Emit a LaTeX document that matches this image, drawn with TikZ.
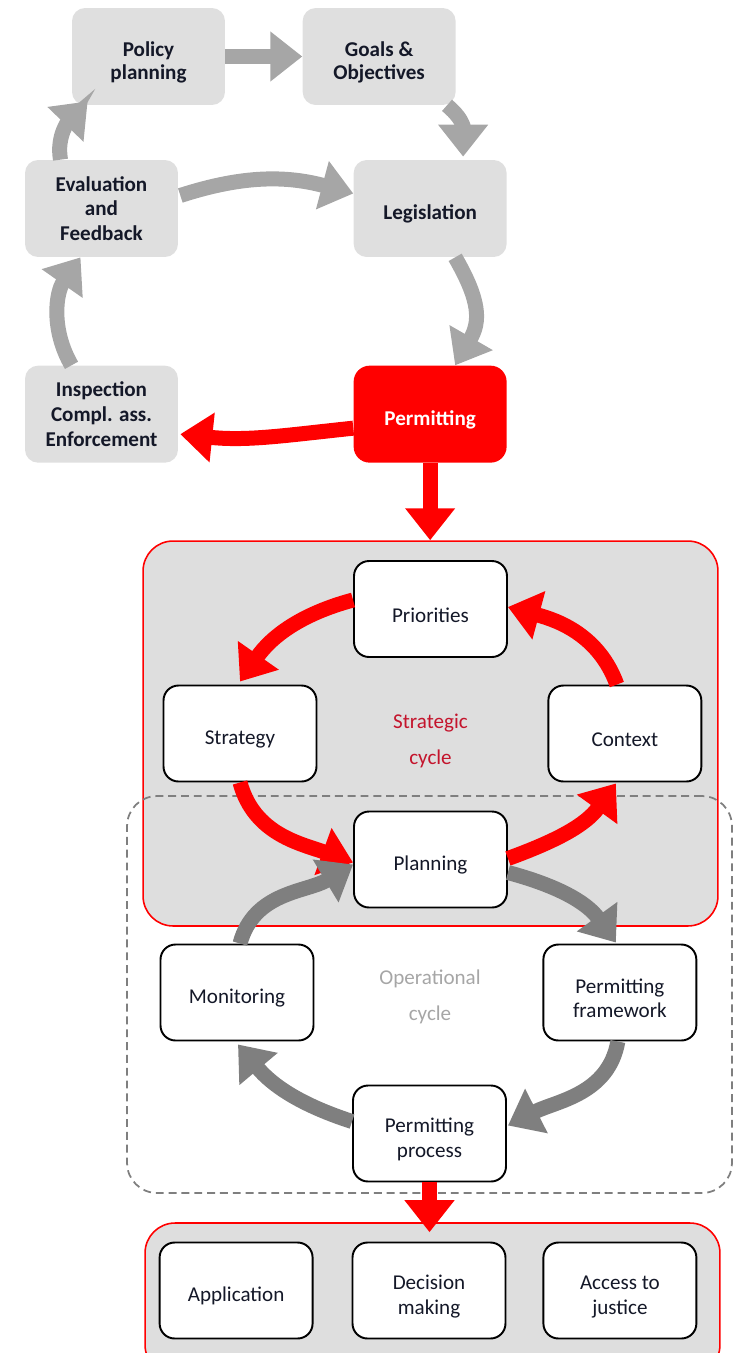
\documentclass[tikz,border=0pt]{standalone}
\usepackage{fontspec}
\setmainfont{Carlito}
\usepackage{xcolor}
\usepackage{tikz}
\usetikzlibrary{positioning, calc, arrows.meta}
\definecolor{boxgrey}{RGB}{223,223,223}
\definecolor{framegrey}{RGB}{222,222,222}
\definecolor{lightarrow}{RGB}{166,166,166}
\definecolor{darkarrow}{RGB}{127,127,127}
\definecolor{permitred}{RGB}{255,0,0}
\definecolor{cyclered}{RGB}{196,20,44}
\definecolor{textdark}{RGB}{20,24,40}

\begin{document}
\begin{tikzpicture}[
        x=0.02cm, y=0.02cm,
        lowered/.style={execute at begin node={\rule{0pt}{#1}}},
        phase/.style={rectangle, rounded corners=0.26cm, fill=#1, text=textdark, align=center, minimum width=3.06cm, minimum height=1.94cm, font=\fontsize{12}{13.5}\selectfont\bfseries, lowered=15pt},
        stage/.style={rectangle, rounded corners=0.3cm, draw=black, line width=1.1pt, fill=white, text=textdark, align=center, minimum width=3.06cm, minimum height=1.92cm, font=\fontsize{12}{14}\selectfont, lowered=15pt},
        frame/.style={rectangle, rounded corners=0.6cm, fill=framegrey, draw=permitred, line width=0.9pt},
        title/.style={text=#1, align=center, font=\fontsize{12}{20.5}\selectfont},
        arrow/.style={->, >={Triangle[length=0.64cm, width=0.96cm]}, line width=0.3cm, draw=#1}
    ]

        \useasboundingbox (0,0) rectangle (736,-1353);
        \clip (0,0) rectangle (736,-1353);

        % policy cycle
        \node (policy) [phase=boxgrey, lowered=28.5pt] at (148.5,-56.5) {Policy\\planning};
        \node (goals) [phase=boxgrey, lowered=28.5pt, right=1.54cm of policy] {Goals \&\\Objectives};
        \node (evaluation) [phase=boxgrey, lowered=0pt, font=\fontsize{12}{14}\selectfont\bfseries] at (101.5,-208.5) {Evaluation\\and\\Feedback};
        \node (legislation) [phase=boxgrey, right=3.5cm of evaluation] {Legislation};
        \node (inspection) [phase=boxgrey, lowered=0pt, font=\fontsize{12}{14}\selectfont\bfseries, below=2.16cm of evaluation] {Inspection\\Compl. ass.\\Enforcement};
        \node (permitting) [phase=permitred, text=white, rounded corners=0.32cm, right=3.5cm of inspection] {Permitting};

        \draw[arrow=lightarrow] (policy.east) -- (goals.west);
        \draw[arrow=lightarrow] ($(goals.south east)+(-9,0)$) to[out=-40, in=90, looseness=1.2] ($(legislation.north)+(33,3)$);
        \draw[arrow=lightarrow] ($(evaluation.east)+(2,13)$) to[out=18, in=165] ($(legislation.west)+(0,15)$);
        \draw[arrow=lightarrow] ($(legislation.south)+(25,0)$) to[out=-60, in=60, looseness=1.2] ($(permitting.north)+(25,0)$);
        \draw[arrow=permitred] ($(permitting.west)+(0,-14)$) to[out=186, in=-6] ($(inspection.east)+(2,-20)$);
        \draw[arrow=lightarrow] ($(inspection.north)+(-30,0)$) to[out=120, in=-125] ($(evaluation.south)+(-21,0)$);
        \draw[arrow=lightarrow] ($(evaluation.north)+(-41,0)$) to[out=100, in=-134] ($(policy.south west)+(16,4)$);

        % frames
        \node (strategic) [frame, minimum width=11.5cm, minimum height=7.7cm] at (430.5,-733.5) {};
        \node (operational) [rectangle, rounded corners=0.6cm, draw=darkarrow, line width=1pt, dash pattern=on 4.5pt off 2.8pt, minimum width=12.1cm, minimum height=7.94cm] at (429.5,-994.5) {};
        \node (bottomframe) [frame, minimum width=11.5cm, minimum height=3.04cm] at (432.5,-1299) {};

        \draw[arrow=permitred] (permitting.south) -- (permitting.south |- strategic.north);

        % strategic cycle
        \node (prio) [stage] at (430.5,-609) {Priorities};
        \node (strategy) [stage] at (240,-733.5) {Strategy};
        \node (context) [stage, right=4.6cm of strategy] {Context};
        \node (planning) [stage] at (430.5,-859.5) {Planning};
        \node (stratlabel) [title=cyclered] at (430.5,-741) {Strategic\\cycle};

        \draw[arrow=permitred] ($(prio.west)+(0,9)$) to[out=195, in=55] ($(strategy.north)+(0,3)$);
        \draw[arrow=permitred] ($(context.north)+(-8,0)$) to[out=110, in=-15] ($(prio.east)+(0,2)$);
        \draw[arrow=permitred] (strategy.south) to[out=-75, in=160] ($(planning.west)+(0,-3)$);
        \draw[arrow=permitred] ($(planning.east)+(0,1)$) to[out=20, in=-126] ($(context.south)+(-9,-1)$);

        % operational cycle
        \node (monitoring) [stage] at (237,-992.5) {Monitoring};
        \node (framework) [stage, lowered=29pt, right=4.56cm of monitoring] {Permitting\\framework};
        \node (process) [stage, lowered=29pt] at (429.5,-1133.5) {Permitting\\process};
        \node (oplabel) [title=lightarrow] at (430,-997) {Operational\\cycle};

        \draw[arrow=darkarrow] ($(planning.east)+(0,-13)$) to[out=-15, in=126] ($(framework.north)+(-4,1)$);
        \draw[arrow=darkarrow] ($(framework.south)+(-2,0)$) to[out=-100, in=27] ($(process.east)+(1,8)$);
        \draw[arrow=darkarrow] ($(process.west)+(0,12)$) to[out=162, in=-50] ($(monitoring.south)+(1,-3)$);
        \draw[arrow=darkarrow] ($(monitoring.north)+(3,0)$) to[out=75, in=-149] ($(planning.west)+(0,-5)$);

        % permitting process steps
        \node (decision) [stage, lowered=29pt] at (429,-1290.5) {Decision\\making};
        \node (application) [stage, left=0.76cm of decision] {Application};
        \node (justice) [stage, lowered=29pt, right=0.72cm of decision] {Access to\\justice};

        \draw[arrow=permitred] (process.south) -- ($(process.south |- bottomframe.north)+(0,-10)$);
    \end{tikzpicture}
\end{document}
